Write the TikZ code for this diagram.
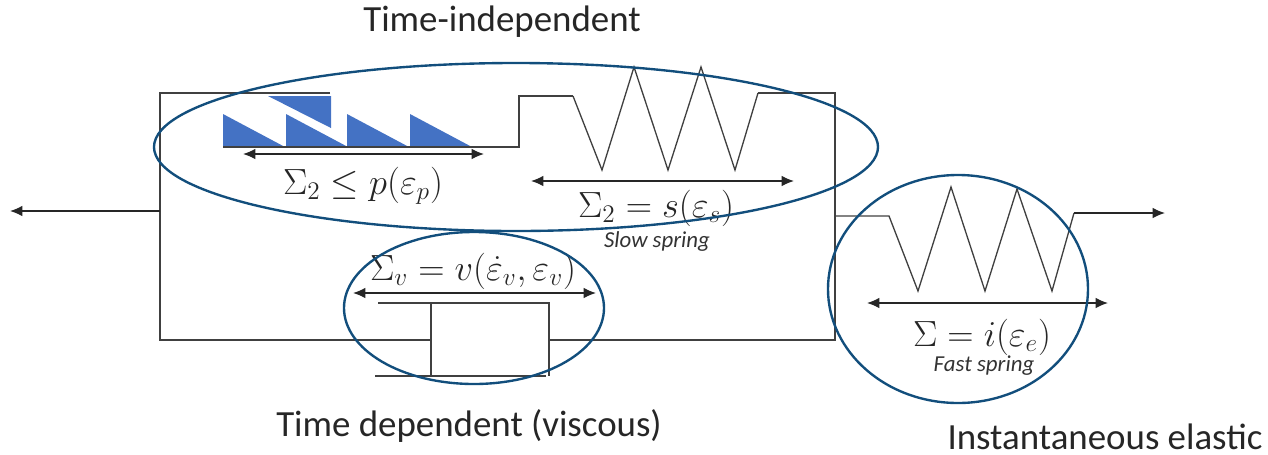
\documentclass[tikz,border=0pt]{standalone}
\usepackage{amsmath,amssymb}
\usepackage{fontspec}
\setmainfont{Carlito}
\usetikzlibrary{arrows.meta}
\definecolor{wire}{HTML}{404040}
\definecolor{ringblue}{HTML}{124E7C}
\definecolor{slipblue}{HTML}{4472C4}
\tikzset{
  wireline/.style={wire, line width=0.75pt, line join=miter},
  ring/.style={ringblue, line width=1.35pt},
  dimarrow/.style={black!85, line width=0.7pt, {Latex[length=7pt,width=6pt]}-{Latex[length=7pt,width=6pt]}},
  loadarrow/.style={black!85, line width=0.7pt, -{Latex[length=7pt,width=6pt]}},
  slip/.style={fill=slipblue},
  caption/.style={font=\fontsize{21}{25}\selectfont, text=black!85, inner sep=0pt},
  formula/.style={font=\fontsize{20}{24}\selectfont, text=black!85, inner sep=0pt},
  note/.style={font=\fontsize{13}{15}\selectfont\itshape, text=black!80, inner sep=0pt}
}
\begin{document}
\begin{tikzpicture}[x=0.02cm,y=-0.02cm]
\useasboundingbox (0,0) rectangle (1268,454);
% outer frame
\draw[wireline] (330,93) -- (160,93) -- (160,340) -- (431,340);
\draw[wireline] (758,93) -- (835,93) -- (835,340) -- (549,340);
% slip blocks
\foreach \x in {223,286,347,410} {
  \fill[slip] (\x,114) -- (\x+62,147) -- (\x,147) -- cycle;
}
\fill[slip] (268,96) -- (331,96) -- (331,128) -- cycle;
\draw[wireline] (223,147) -- (519,147) -- (519,96) -- (573,96);
% slow spring
\draw[wireline] (573,96) -- (602,170) -- (634,67) -- (668,170) -- (701,67) -- (735,170) -- (758,93);
% dashpot
\draw[wireline] (378,303) -- (549,303) -- (549,376);
\draw[wireline] (431,303) -- (431,376);
\draw[wireline] (375,376) -- (546,376);
% fast spring
\draw[wireline] (835,216) -- (889,216) -- (918,291) -- (951,187) -- (985,291) -- (1017,189) -- (1052,291) -- (1074,213);
% load arrows
\coordinate (loadL0) at (160,211);
\coordinate (loadL1) at (10,211);
\coordinate (loadR0) at (1074,213);
\coordinate (loadR1) at (1165,213);
\draw[loadarrow] (loadL0) -- (loadL1);
\draw[loadarrow] (loadR0) -- (loadR1);
% extent arrows
\coordinate (plasL) at (243,154);
\coordinate (plasR) at (484,154);
\coordinate (slowL) at (531,181);
\coordinate (slowR) at (794,181);
\coordinate (viscL) at (353,293);
\coordinate (viscR) at (596,293);
\coordinate (fastL) at (867,303);
\coordinate (fastR) at (1108,303);
\foreach \a/\b in {plasL/plasR, slowL/slowR, viscL/viscR, fastL/fastR} {
  \draw[dimarrow] (\a) -- (\b);
}
% formulas
\node[formula] (plasEq) at (363,186) {$\Sigma_2 \leq p(\varepsilon_p)$};
\node[formula] (slowEq) at (656,208) {$\Sigma_2 = s(\varepsilon_s)$};
\node[formula] (viscEq) at (473,271) {$\Sigma_v = v(\dot{\varepsilon}_v,\varepsilon_v)$};
\node[formula] (fastEq) at (982,337) {$\Sigma = i(\varepsilon_e)$};
\node[note] (slowNote) at (657,242) {Slow spring};
\node[note] (fastNote) at (984,366) {Fast spring};
% groups
\draw[ring] (516,147) ellipse (362 and 84);
\draw[ring] (474,308) ellipse (130 and 76);
\draw[ring] (958,289) ellipse (130 and 114);
% captions
\node[caption] (indep) at (502,22) {Time-independent};
\node[caption] (dep) at (469,426) {Time dependent (viscous)};
\node[caption] (inst) at (1105,437) {Instantaneous elastic};
\end{tikzpicture}
\end{document}
